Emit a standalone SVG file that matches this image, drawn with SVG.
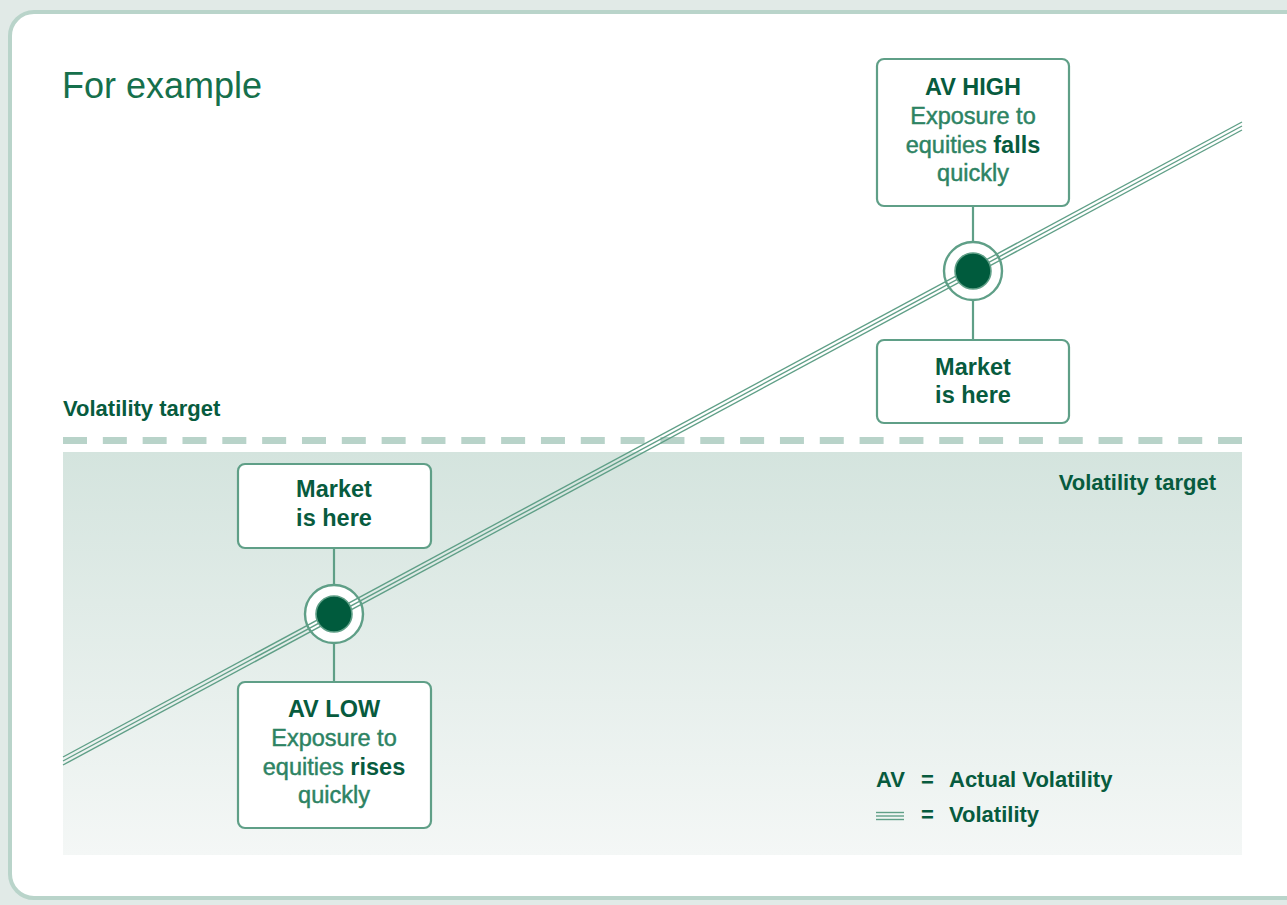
<svg xmlns="http://www.w3.org/2000/svg" width="1287" height="905" viewBox="0 0 1287 905">
<defs>
<linearGradient id="shade" x1="0" y1="0" x2="0" y2="1">
<stop offset="0" stop-color="#d4e4de"/>
<stop offset="1" stop-color="#f4f7f6"/>
</linearGradient>
<style>
.box{fill:#ffffff;stroke:#5f9f87;stroke-width:2.2}
.conn{stroke:#5f9f87;stroke-width:2.2;fill:none}
.vl{stroke:#5f9f87;stroke-width:1.4;fill:none}
.ring{fill:#ffffff;stroke:#5f9f87;stroke-width:2.4}
.dot{fill:#005b3d;stroke:#5f9f87;stroke-width:1.6}
.t{font-family:"Liberation Sans",Arial,sans-serif;font-size:23.5px;text-anchor:middle}
.b{font-weight:bold;fill:#075b3e}
.r{fill:#2d8363;stroke:#2d8363;stroke-width:0.45}
.lbl{font-family:"Liberation Sans",Arial,sans-serif;font-size:22px;font-weight:bold;fill:#075b3e}
</style>
</defs>
<rect x="0" y="0" width="1287" height="905" fill="#e1eae7"/>
<rect x="10" y="12" width="1310" height="886" rx="24" fill="#ffffff" stroke="#b9d4ca" stroke-width="4"/>
<text x="62" y="98" font-family="'Liberation Sans',Arial,sans-serif" font-size="36" fill="#16704c">For example</text>
<rect x="63" y="452" width="1179" height="403" fill="url(#shade)"/>
<line x1="63" y1="440.5" x2="1242" y2="440.5" stroke="#b8d3c9" stroke-width="7" stroke-dasharray="24 15.83"/>
<text class="lbl" x="63" y="416">Volatility target</text>
<text class="lbl" x="1216" y="490" text-anchor="end">Volatility target</text>

<g id="connectors">
<line class="conn" x1="973" y1="206" x2="973" y2="242"/>
<line class="conn" x1="973" y1="300" x2="973" y2="340"/>
<line class="conn" x1="334" y1="548" x2="334" y2="585"/>
<line class="conn" x1="334" y1="643" x2="334" y2="682"/>
</g>

<g id="marker-high"><circle class="ring" cx="973" cy="271" r="29"/></g>
<g id="marker-low"><circle class="ring" cx="334" cy="614" r="29"/></g>

<g id="volatility-line">
<line class="vl" x1="63" y1="757" x2="1242" y2="122"/>
<line class="vl" x1="63" y1="761" x2="1242" y2="126"/>
<line class="vl" x1="63" y1="765" x2="1242" y2="130"/>
</g>

<circle class="dot" cx="973" cy="271" r="18"/>
<circle class="dot" cx="334" cy="614" r="18"/>

<g id="box-av-high">
<rect class="box" x="877" y="59" width="192" height="147" rx="7"/>
<text class="t b" x="973" y="95">AV HIGH</text>
<text class="t r" x="973" y="124">Exposure to</text>
<text class="t" x="973" y="153"><tspan class="r">equities </tspan><tspan class="b">falls</tspan></text>
<text class="t r" x="973" y="181">quickly</text>
</g>

<g id="box-market-high">
<rect class="box" x="877" y="340" width="192" height="83" rx="7"/>
<text class="t b" x="973" y="375">Market</text>
<text class="t b" x="973" y="403">is here</text>
</g>

<g id="box-market-low">
<rect class="box" x="238" y="464" width="193" height="84" rx="7"/>
<text class="t b" x="334" y="497">Market</text>
<text class="t b" x="334" y="526">is here</text>
</g>

<g id="box-av-low">
<rect class="box" x="238" y="682" width="193" height="146" rx="7"/>
<text class="t b" x="334" y="717">AV LOW</text>
<text class="t r" x="334" y="746">Exposure to</text>
<text class="t" x="334" y="775"><tspan class="r">equities </tspan><tspan class="b">rises</tspan></text>
<text class="t r" x="334" y="803">quickly</text>
</g>

<g id="legend">
<text class="lbl" x="876" y="787">AV</text>
<text class="lbl" x="921" y="787">=</text>
<text class="lbl" x="949" y="787">Actual Volatility</text>
<line class="vl" x1="876" y1="812.5" x2="904" y2="812.5"/>
<line class="vl" x1="876" y1="816" x2="904" y2="816"/>
<line class="vl" x1="876" y1="819.5" x2="904" y2="819.5"/>
<text class="lbl" x="921" y="822">=</text>
<text class="lbl" x="949" y="822">Volatility</text>
</g>
</svg>
